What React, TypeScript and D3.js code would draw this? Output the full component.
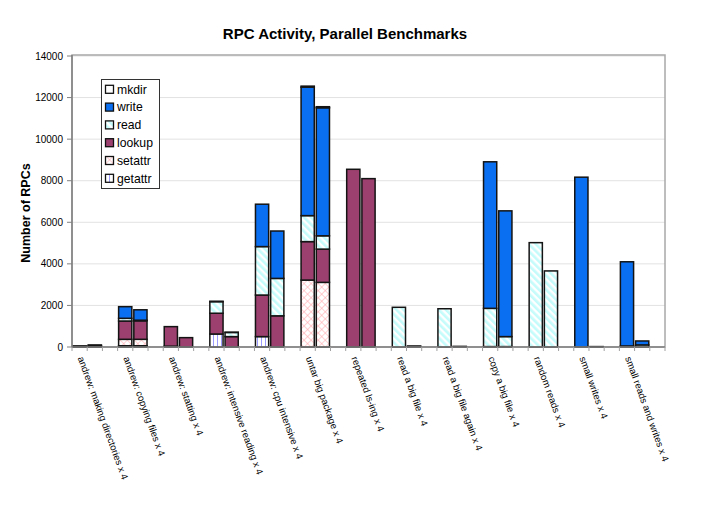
import React from 'react';
import * as d3 from 'd3';

const categories = [
  'andrew: making directories x 4',
  'andrew: copying files x 4',
  'andrew: statting x 4',
  'andrew: intensive reading x 4',
  'andrew: cpu intensive x 4',
  'untar big package x 4',
  'repeated ls-ing x 4',
  'read a big file x 4',
  'read a big file again x 4',
  'copy a big file x 4',
  'random reads x 4',
  'small writes x 4',
  'small reads and writes x 4',
];

// two bars per category (first, second), bottom-to-top stacking order
const getattr = [20, 30, 60, 60, 40, 0, 625, 0, 500, 0, 0, 0, 0, 0, 0, 50, 0, 30, 20, 20, 0, 0, 0, 20, 0, 0];
const setattr = [0, 0, 310, 310, 0, 0, 0, 0, 0, 0, 3220, 3110, 0, 0, 0, 0, 0, 0, 0, 0, 0, 0, 0, 0, 0, 0];
const lookup = [10, 30, 880, 890, 940, 450, 1000, 500, 2000, 1500, 1850, 1600, 8550, 8100, 0, 0, 0, 0, 0, 0, 0, 0, 0, 0, 0, 0];
const read = [0, 0, 130, 30, 0, 0, 555, 200, 2330, 1800, 1250, 640, 0, 0, 1910, 0, 1840, 0, 1840, 480, 5020, 3660, 0, 0, 50, 100];
const write = [0, 0, 560, 500, 0, 0, 0, 0, 2040, 2280, 6180, 6160, 0, 0, 0, 0, 0, 0, 7050, 6050, 0, 0, 8170, 0, 4050, 190];
const mkdir = [20, 40, 0, 0, 0, 0, 20, 10, 0, 0, 50, 50, 0, 0, 0, 0, 0, 0, 0, 0, 0, 0, 0, 0, 0, 0];

const stackKeys = ['getattr', 'setattr', 'lookup', 'read', 'write', 'mkdir'];
const legendKeys = ['mkdir', 'write', 'read', 'lookup', 'setattr', 'getattr'];
const yTicks = [0, 2000, 4000, 6000, 8000, 10000, 12000, 14000];

const fills: Record<string, string> = {
  mkdir: '#ffffff',
  write: '#0a6ff0',
  read: 'url(#pRead)',
  lookup: '#9c406f',
  setattr: 'url(#pSet)',
  getattr: 'url(#pGet)',
};

const W = 710;
const H = 505;
const left = 72;
const right = 665;
const top = 56;
const bottom = 347;
const font = 'Liberation Sans, Arial, sans-serif';

export default function App() {
  const series: Record<string, number[]> = { getattr, setattr, lookup, read, write, mkdir };
  const rows = getattr.map((_, i) => {
    const r: any = { idx: i };
    stackKeys.forEach((k) => (r[k] = series[k][i]));
    return r;
  });
  const stacked = d3.stack<any>().keys(stackKeys)(rows);

  const slots = d3.range(categories.length * 3);
  const x = d3.scaleBand<number>().domain(slots).range([left, right]).padding(0);
  const y = d3.scaleLinear().domain([0, 14000]).range([bottom, top]);
  const slotOf = (i: number) => Math.floor(i / 2) * 3 + (i % 2);
  const bw = x.bandwidth();

  return (
    <div style={{ position: 'absolute', left: 0, top: 0 }}>
      <svg width={W} height={H} style={{ display: 'block', background: '#fff' }}>
        <defs>
          <pattern id="pRead" width="5" height="5" patternUnits="userSpaceOnUse" patternTransform="rotate(-45)">
            <rect width="5" height="5" fill="#ffffff" />
            <rect width="2.6" height="5" fill="#c4fbfb" />
          </pattern>
          <pattern id="pSet" width="5" height="5" patternUnits="userSpaceOnUse" patternTransform="rotate(45)">
            <rect width="5" height="5" fill="#ffffff" />
            <line x1="0" y1="0" x2="0" y2="5" stroke="#ff9fa6" strokeWidth="1" />
            <line x1="0" y1="0" x2="5" y2="0" stroke="#ff9fa6" strokeWidth="1" />
          </pattern>
          <pattern id="pGet" width="4" height="4" patternUnits="userSpaceOnUse">
            <rect width="4" height="4" fill="#ffffff" />
            <line x1="1.5" y1="0" x2="1.5" y2="4" stroke="#9a9aff" strokeWidth="1" />
          </pattern>
        </defs>

        <text x={345} y={39} textAnchor="middle" fontFamily={font} fontWeight="bold" fontSize={15}>
          RPC Activity, Parallel Benchmarks
        </text>

        {/* grid */}
        {yTicks.map((t) => (
          <line key={'g' + t} x1={left} x2={right} y1={y(t)} y2={y(t)} stroke="#e2e2e2" strokeWidth={1} />
        ))}
        {/* plot border */}
        <rect x={left} y={top - 1} width={right - left} height={bottom - top + 1} fill="none" stroke="#a8a8a8" strokeWidth={1.5} />

        {/* bars */}
        {stacked.map((s) =>
          s.map((d, i) => {
            const v = d[1] - d[0];
            if (v <= 0) return null;
            const sx = (x(slotOf(i)) as number) + 1;
            return (
              <rect
                key={s.key + i}
                x={sx}
                width={bw - 2}
                y={y(d[1])}
                height={Math.max(0, y(d[0]) - y(d[1]))}
                fill={fills[s.key]}
                stroke="#141414"
                strokeWidth={1.5}
              />
            );
          })
        )}

        {/* y axis */}
        <line x1={left} x2={left} y1={top - 1} y2={bottom} stroke="#808080" strokeWidth={1.5} />
        {yTicks.map((t) => (
          <g key={'t' + t}>
            <line x1={left - 5} x2={left} y1={y(t)} y2={y(t)} stroke="#808080" />
            <text x={63} y={y(t) + 3.5} textAnchor="end" fontFamily={font} fontSize={10}>
              {t}
            </text>
          </g>
        ))}
        {/* x axis */}
        <line x1={left} x2={right} y1={bottom} y2={bottom} stroke="#808080" strokeWidth={1.5} />
        {slots.concat([slots.length]).map((s) => {
          const px = s < slots.length ? (x(s) as number) : right;
          return <line key={'xt' + s} x1={px} x2={px} y1={bottom} y2={bottom + 4} stroke="#a0a0a0" />;
        })}
        {categories.map((c, g) => {
          const cx = (x(g * 3) as number) + bw / 2 - 2;
          return (
            <text
              key={c}
              transform={`translate(${cx},${358}) rotate(70)`}
              fontFamily={font}
              fontSize={9.6}
            >
              {c}
            </text>
          );
        })}

        <text
          transform={`translate(29.5,${213}) rotate(-90)`}
          textAnchor="middle"
          fontFamily={font}
          fontWeight="bold"
          fontSize={12.5}
        >
          Number of RPCs
        </text>

        {/* legend */}
        <rect x={101.5} y={79.5} width={58} height={109} fill="#ffffff" stroke="#333" strokeWidth={1} />
        {legendKeys.map((k, i) => {
          const cy = 89.3 + i * 17.8;
          return (
            <g key={'l' + k}>
              <rect x={105.5} y={cy - 4} width={8} height={8} fill={fills[k]} stroke="#111" strokeWidth={1.3} />
              <text x={117} y={cy + 4.3} fontFamily={font} fontSize={12.2}>
                {k}
              </text>
            </g>
          );
        })}
      </svg>
    </div>
  );
}
